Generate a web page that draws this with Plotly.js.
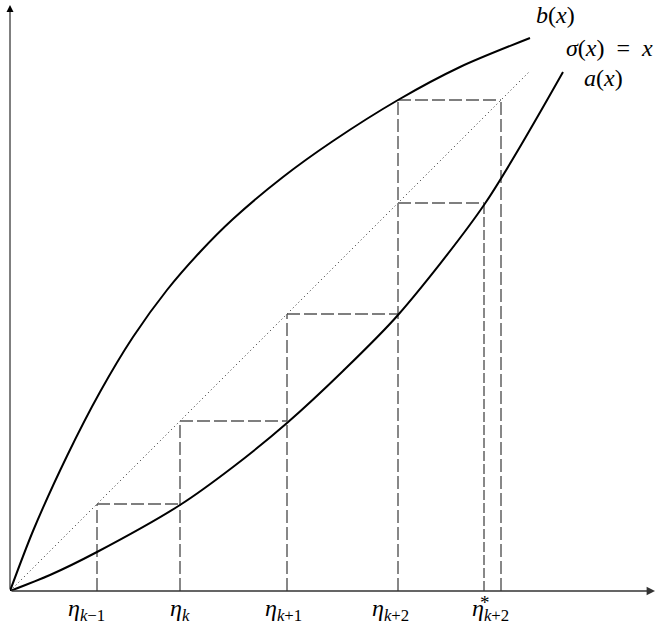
<!DOCTYPE html>
<html>
<head>
<meta charset="utf-8">
<script src="https://cdn.plot.ly/plotly-3.0.1.min.js"></script>
<style>html,body{margin:0;padding:0;background:#fff;} #chart{width:659px;height:626px;}</style>
</head>
<body>
<div id="chart"></div>
<script>
// Curve samples
const bX = [0, 0.23, 0.57, 0.90, 1.23, 1.57, 1.90, 2.23, 2.73, 3.23, 3.88, 4.50, 5.20];
const bY = [0, 0.60, 1.35, 1.99, 2.54, 3.01, 3.39, 3.72, 4.14, 4.50, 4.91, 5.24, 5.53];
const aX = [0, 0.40, 0.87, 1.70, 2.23, 2.77, 3.33, 3.88, 4.74, 5.53];
const aY = [0, 0.16, 0.39, 0.86, 1.24, 1.68, 2.20, 2.76, 3.86, 5.19];
const diagX = [0, 5.19];
// Staircase points
const eta = [0.87, 1.70, 2.77, 3.88];           // eta_{k-1}, eta_k, eta_{k+1}, eta_{k+2}
const etaStar = 4.74;                            // eta*_{k+2}
const bEta = 4.91;                               // b(eta_{k+2})
const etaLabels = ['<i>η</i><sub><i>k</i>−1</sub>', '<i>η</i><sub><i>k</i></sub>', '<i>η</i><sub><i>k</i>+1</sub>', '<i>η</i><sub><i>k</i>+2</sub>'];
const starLabel = '<i>η</i><sub><i>k</i>+2</sub>';
const curveLabels = ['<i>b</i>(<i>x</i>)', '<i>σ</i>(<i>x</i>)\u2002=\u2002<i>x</i>', '<i>a</i>(<i>x</i>)'];

const traces = [];
traces.push({x: diagX, y: diagX, mode: 'lines', line: {color: '#222', width: 1, dash: '1px,3px'}, hoverinfo: 'skip'});
// staircase dashed
const sx = [], sy = [];
for (let i = 0; i < eta.length - 1; i++) {
  sx.push(eta[i], eta[i], null, eta[i], eta[i+1], null);
  sy.push(0, eta[i], null, eta[i], eta[i], null);
}
const last = eta[eta.length - 1];
sx.push(last, last, null, last, etaStar, null, last, bEta, null, bEta, bEta, null);
sy.push(0, bEta, null, last, last, null, bEta, bEta, null, 0, bEta, null);
traces.push({x: sx, y: sy, mode: 'lines', line: {color: '#555', width: 1.4, dash: '13px,4px'}, hoverinfo: 'skip'});
traces.push({x: [etaStar, etaStar], y: [0, last], mode: 'lines', line: {color: '#111', width: 1, dash: '10px,3px'}, hoverinfo: 'skip'});
traces.push({x: bX, y: bY, mode: 'lines', line: {color: '#000', width: 2, shape: 'spline', smoothing: 0.8}, hoverinfo: 'skip'});
traces.push({x: aX, y: aY, mode: 'lines', line: {color: '#000', width: 2, shape: 'spline', smoothing: 0.8}, hoverinfo: 'skip'});

const ff = 'Liberation Serif, DejaVu Serif, serif';
const tf = {family: ff, size: 24, color: '#000'};
const cf = {family: ff, size: 24, color: '#000'};
const ann = [];
// axes arrows
ann.push({x: 6.45, y: 0, ax: 0, ay: 0, axref: 'x', ayref: 'y', xref: 'x', yref: 'y', text: '', showarrow: true, arrowhead: 2, arrowsize: 1.2, arrowwidth: 1.4, arrowcolor: '#333'});
ann.push({x: 0, y: 5.86, ax: 0, ay: 0, axref: 'x', ayref: 'y', xref: 'x', yref: 'y', text: '', showarrow: true, arrowhead: 2, arrowsize: 1.4, arrowwidth: 1, arrowcolor: '#000'});
const shifts = [-11, 0, -4, -8];
eta.forEach((e, i) => {
  ann.push({x: e, y: 0, xref: 'x', yref: 'y', text: etaLabels[i], showarrow: false, yanchor: 'middle', yshift: -19, xshift: shifts[i], font: tf});
});
ann.push({x: etaStar, y: 0, xref: 'x', yref: 'y', text: starLabel, showarrow: false, yanchor: 'middle', yshift: -19, xshift: 6, font: tf});
ann.push({x: etaStar, y: 0, xref: 'x', yref: 'y', text: '*', showarrow: false, yanchor: 'middle', yshift: -11, xshift: 1, font: {family: ff, size: 19, color: '#000'}});
ann.push({x: 5.45, y: 5.76, xref: 'x', yref: 'y', text: curveLabels[0], showarrow: false, font: cf});
ann.push({x: 5.99, y: 5.43, xref: 'x', yref: 'y', text: curveLabels[1], showarrow: false, font: cf});
ann.push({x: 5.93, y: 5.13, xref: 'x', yref: 'y', text: curveLabels[2], showarrow: false, font: cf});

const layout = {
  width: 659, height: 626,
  margin: {l: 10, r: 4, t: 5, b: 35},
  paper_bgcolor: '#fff', plot_bgcolor: '#fff',
  showlegend: false,
  xaxis: {range: [0, 6.45], showgrid: false, zeroline: false, showticklabels: false, ticks: '', showline: false, fixedrange: true},
  yaxis: {range: [0, 5.86], showgrid: false, zeroline: false, showticklabels: false, ticks: '', showline: false, fixedrange: true},
  annotations: ann
};
Plotly.newPlot('chart', traces, layout, {displayModeBar: false, staticPlot: true});
</script>
</body>
</html>
